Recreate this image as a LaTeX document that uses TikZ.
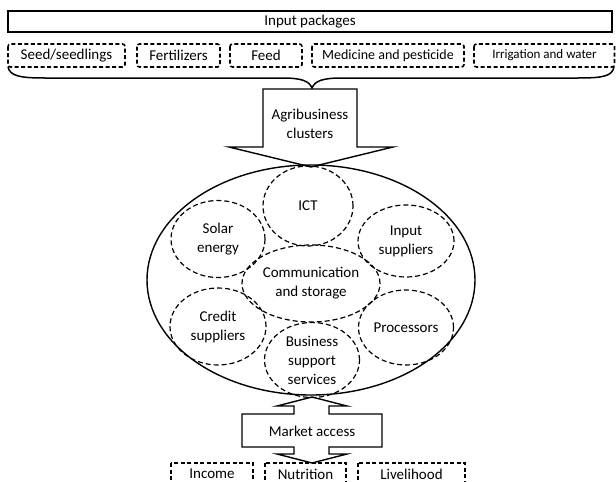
\documentclass[tikz,border=0pt]{standalone}
\usepackage{fontspec}
\setmainfont{Carlito}
\usetikzlibrary{shapes.geometric}
\begin{document}
\begin{tikzpicture}[x=1pt,y=-1pt,
  every node/.style={font=\fontsize{15}{19}\selectfont, inner sep=0pt, align=center},
  solidline/.style={draw, line width=1.4pt, line join=miter},
  dbox/.style={draw, line width=1.6pt, dash pattern=on 4pt off 2.5pt, rounded corners=2.5pt},
  bbox/.style={draw, line width=1.6pt, dash pattern=on 4pt off 2.5pt},
  dell/.style={draw, ellipse, line width=1.2pt, dash pattern=on 5pt off 3pt, inner sep=0pt},
  lbl/.style={font=\fontsize{15}{19}\selectfont},
]
\useasboundingbox (0,0) rectangle (616,482);
\clip (0,0) rectangle (616,482);

% Top box
\draw[solidline] (8,11) rectangle (612,32);
\node[lbl] (inp) at (310,21.5) {Input packages};

% Dashed input boxes
\draw[dbox] (8,44) rectangle (125,67);
\node[lbl] (seed) at (66.5,55.5) {Seed/seedlings};
\draw[dbox] (137,44) rectangle (220,67);
\node[lbl] (fert) at (178.5,55.5) {Fertilizers};
\draw[dbox] (230,44) rectangle (302,67);
\node[lbl] (feed) at (266,55.5) {Feed};
\draw[dbox] (312,44) rectangle (464,67);
\node[font=\fontsize{14}{17}\selectfont] (med) at (388,55.5) {Medicine and pesticide};
\draw[dbox] (474,44) rectangle (614.5,67);
\node[font=\fontsize{13}{16}\selectfont] (irr) at (544.5,55) {Irrigation and water};

% Brace
\coordinate (bl) at (8,67);
\coordinate (br) at (614,67);
\coordinate (btip) at (312,88);
\draw[line width=1.5pt] (bl) .. controls (10,76) and (20,78) .. (45,78) -- (282,78)
  .. controls (302,78) and (309,81) .. (btip)
  .. controls (315,81) and (322,78) .. (342,78) -- (578,78)
  .. controls (604,78) and (612,76) .. (br);

% Agribusiness arrow
\draw[solidline] (263,89) -- (357,89) -- (357,147) -- (393,147) -- (311,167) -- (229,147) -- (263,147) -- cycle;
\node[lbl] (agri) at (310,123.5) {Agribusiness\\clusters};

% Big ellipse
\node[draw, ellipse, line width=1.4pt, minimum width=328pt, minimum height=230pt] (cluster) at (311,280) {};

% Dashed ellipses
\node[dell, minimum width=90pt, minimum height=80pt] (ict) at (308,206) {ICT};
\node[dell, minimum width=94pt, minimum height=77pt] (solar) at (218,239) {Solar\\energy};
\node[dell, minimum width=96pt, minimum height=72pt] (inpsup) at (406,241) {Input\\suppliers};
\node[dell, minimum width=138pt, minimum height=77pt] (comm) at (311,283.5) {Communication\\and storage};
\node[dell, minimum width=96pt, minimum height=77pt] (credit) at (218,326.5) {Credit\\suppliers};
\node[dell, minimum width=95pt, minimum height=75pt] (proc) at (406,327.5) {Processors};
\node[dell, minimum width=95pt, minimum height=75pt] (bss) at (312,360) {Business\\support\\services};

% Market access double arrow
\draw[solidline] (312,397) -- (347,406) -- (329,406) -- (329,414) -- (382,414) -- (382,447)
  -- (329,447) -- (329,454) -- (347,454) -- (312,463) -- (277,454) -- (294,454) -- (294,447)
  -- (242,447) -- (242,414) -- (294,414) -- (294,406) -- (277,406) -- cycle;
\node[lbl] (market) at (312,431) {Market access};

% Bottom boxes
\draw[bbox] (171,463) rectangle (253,495);
\node[lbl] (income) at (212,474) {Income};
\draw[bbox] (265,463) rectangle (346,495);
\node[lbl] (nutr) at (305.5,474) {Nutrition};
\draw[bbox] (358,463) rectangle (465,495);
\node[lbl] (live) at (411.5,474) {Livelihood};
\end{tikzpicture}
\end{document}
